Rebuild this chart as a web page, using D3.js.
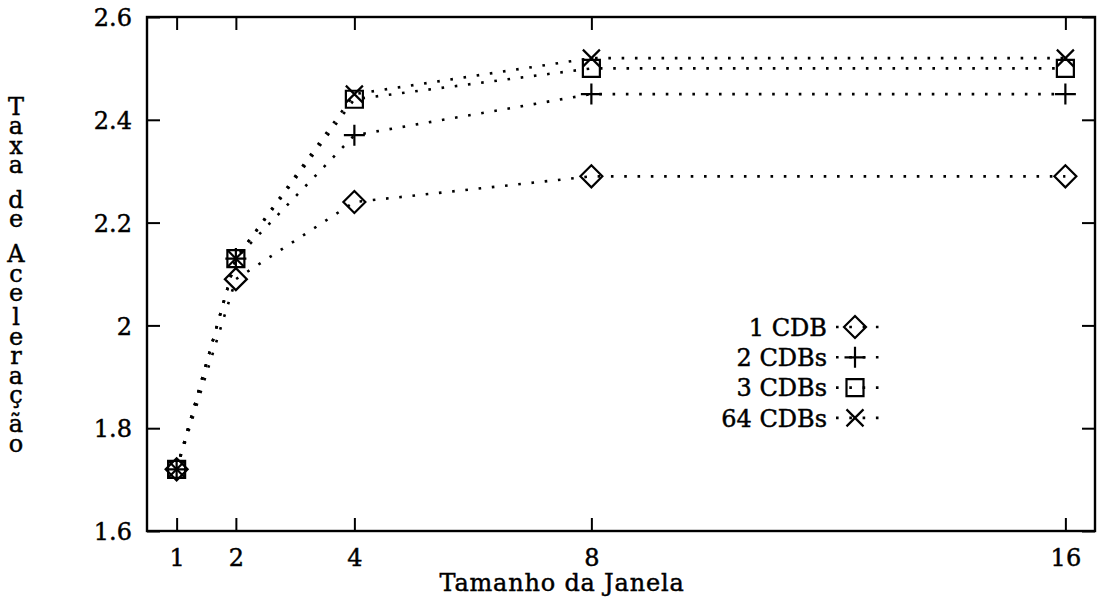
<!DOCTYPE html>
<html>
<head>
<meta charset="utf-8">
<script src="https://cdn.jsdelivr.net/npm/d3@7"></script>
<style>
  html, body { margin: 0; padding: 0; background: #fff; }
  svg text { font-family: "DejaVu Serif", serif; fill: #000; stroke: #000; stroke-width: 0.45px; }
</style>
</head>
<body>
<svg id="chart" width="1102" height="607"></svg>
<script>
// Window size (x) and speed-up rate (y) for each number of CDBs
const windowSizes = [1, 2, 4, 8, 16];
const seriesNames = ["1 CDB", "2 CDBs", "3 CDBs", "64 CDBs"];
const cdb1  = [1.72, 2.09, 2.24, 2.29, 2.29];
const cdb2  = [1.72, 2.13, 2.37, 2.45, 2.45];
const cdb3  = [1.72, 2.13, 2.44, 2.50, 2.50];
const cdb64 = [1.72, 2.13, 2.45, 2.52, 2.52];
const xTicks = [1, 2, 4, 8, 16];
const yTicks = [1.6, 1.8, 2.0, 2.2, 2.4, 2.6];
const xTitle = "Tamanho da Janela";
const yTitle = "Taxa de Aceleração";

const series = [
  { name: seriesNames[0], values: cdb1,  symbol: "diamond" },
  { name: seriesNames[1], values: cdb2,  symbol: "plus" },
  { name: seriesNames[2], values: cdb3,  symbol: "square" },
  { name: seriesNames[3], values: cdb64, symbol: "cross" }
];

const svg = d3.select("#chart");
const box = { left: 147, right: 1095, top: 17, bottom: 531 };
const fontSize = 24;

const x = d3.scaleLinear().domain([0.5, 16.5]).range([box.left, box.right]);
const y = d3.scaleLinear().domain([1.6, 2.6]).range([box.bottom, box.top]);

const tickLen = 13;
const fmtY = v => (Math.abs(v - Math.round(v)) < 1e-9 ? String(Math.round(v)) : d3.format(".1f")(v));

// Axes: ticks point inward and are mirrored on the opposite sides
const gBottom = svg.append("g").attr("transform", `translate(0,${box.bottom})`)
  .call(d3.axisBottom(x).tickValues(xTicks).tickSize(-tickLen).tickPadding(18).tickFormat(d3.format("d")));
const gTop = svg.append("g").attr("transform", `translate(0,${box.top})`)
  .call(d3.axisTop(x).tickValues(xTicks).tickSize(-tickLen).tickFormat(""));
const gLeft = svg.append("g").attr("transform", `translate(${box.left},0)`)
  .call(d3.axisLeft(y).tickValues(yTicks).tickSize(-tickLen).tickPadding(15).tickFormat(fmtY));
const gRight = svg.append("g").attr("transform", `translate(${box.right},0)`)
  .call(d3.axisRight(y).tickValues(yTicks).tickSize(-tickLen).tickFormat(""));

[gBottom, gTop, gLeft, gRight].forEach(g => {
  g.select(".domain").remove();
  g.selectAll(".tick line").attr("stroke", "#000").attr("stroke-width", 2);
  g.selectAll(".tick text").attr("font-size", fontSize).attr("fill", "#000").attr("font-family", "DejaVu Serif, serif");
});
gLeft.selectAll(".tick text").attr("dy", "0.36em");

// Frame
svg.append("rect")
  .attr("x", box.left).attr("y", box.top)
  .attr("width", box.right - box.left).attr("height", box.bottom - box.top)
  .attr("fill", "none").attr("stroke", "#000").attr("stroke-width", 2.4);

// Marker drawing
const symbolSize = { diamond: 11, plus: 10.5, square: 8.5, cross: 8.5 };
function drawSymbol(g, kind, cx, cy) {
  const s = symbolSize[kind];
  let d;
  if (kind === "diamond") d = `M${cx},${cy - s}L${cx + s},${cy}L${cx},${cy + s}L${cx - s},${cy}Z`;
  else if (kind === "plus") d = `M${cx - s},${cy}H${cx + s}M${cx},${cy - s}V${cy + s}`;
  else if (kind === "square") d = `M${cx - s},${cy - s}H${cx + s}V${cy + s}H${cx - s}Z`;
  else d = `M${cx - s},${cy - s}L${cx + s},${cy + s}M${cx + s},${cy - s}L${cx - s},${cy + s}`;
  g.append("path").attr("d", d).attr("fill", "none").attr("stroke", "#000").attr("stroke-width", 2.2);
}

const dotted = { width: 2.6, dash: "2.6 10.7" };
const line = d3.line().x(d => x(d[0])).y(d => y(d[1]));

const plot = svg.append("g");
series.forEach(s => {
  const pts = windowSizes.map((w, i) => [w, s.values[i]]);
  plot.append("path").datum(pts).attr("d", line)
    .attr("fill", "none").attr("stroke", "#000")
    .attr("stroke-width", dotted.width).attr("stroke-dasharray", dotted.dash);
});
series.forEach(s => {
  const g = plot.append("g");
  windowSizes.forEach((w, i) => drawSymbol(g, s.symbol, x(w), y(s.values[i])));
});

// Legend
const legend = svg.append("g");
series.forEach((s, i) => {
  const ly = 327 + i * 30.3;
  legend.append("text").attr("x", 827).attr("y", ly).attr("dy", "0.36em")
    .attr("text-anchor", "end").attr("font-size", fontSize).text(s.name);
  legend.append("line").attr("x1", 836).attr("x2", 888).attr("y1", ly).attr("y2", ly)
    .attr("stroke", "#000").attr("stroke-width", dotted.width).attr("stroke-dasharray", dotted.dash);
  const g = legend.append("g");
  drawSymbol(g, s.symbol, 855, ly);
});

// Axis titles
svg.append("text").attr("x", 562).attr("y", 591).attr("text-anchor", "middle")
  .attr("font-size", fontSize).attr("letter-spacing", 0.8).text(xTitle);

// Vertical title: one character per line, stacked with spacing based on glyph heights
const tall = new Set("TdAlbfhkBCDEFGHIJKLMNOPQRSUVWXYZãáéíóúâêô");
const deep = new Set("çgpqy");
const yt = svg.append("g");
let base = 115;
Array.from(yTitle).forEach((ch, i, arr) => {
  if (i > 0) {
    const prev = arr[i - 1];
    const h = ch === " " ? 2 : (tall.has(ch) ? 16 : 11);
    const dpt = deep.has(prev) ? 5 : 0;
    base += dpt + 8.4 + h;
  }
  if (ch !== " ") {
    yt.append("text").attr("x", 16).attr("y", base).attr("text-anchor", "middle")
      .attr("font-size", fontSize).text(ch);
  }
});
</script>
</body>
</html>
